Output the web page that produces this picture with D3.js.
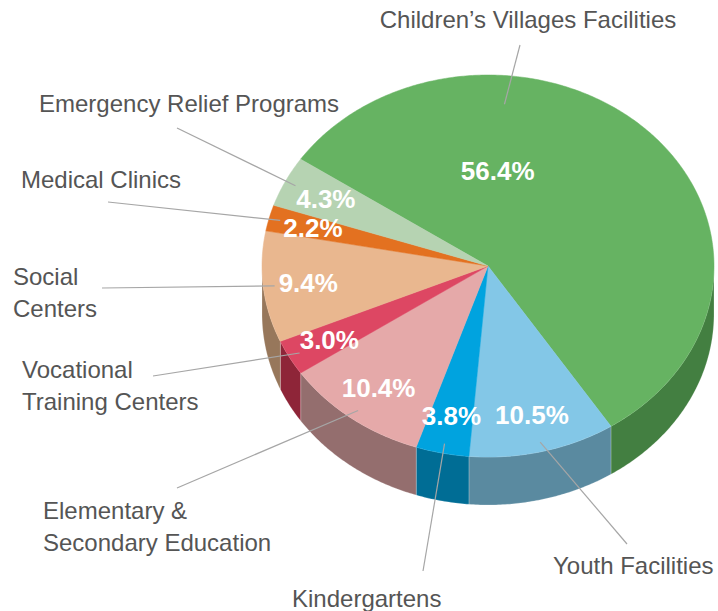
<!DOCTYPE html>
<html>
<head>
<meta charset="utf-8">
<script src="https://cdn.jsdelivr.net/npm/d3@7"></script>
<style>
  html, body { margin: 0; padding: 0; background: #fff; }
  svg { display: block; }
</style>
</head>
<body>
<svg id="chart"></svg>
<script>
// data, clockwise from the top-left edge of the big slice
var categories = [
  "Children’s Villages Facilities",
  "Youth Facilities",
  "Kindergartens",
  "Elementary &\nSecondary Education",
  "Vocational\nTraining Centers",
  "Social\nCenters",
  "Medical Clinics",
  "Emergency Relief Programs"
];
var values = [56.4, 10.5, 3.8, 10.4, 3.0, 9.4, 2.2, 4.3];

var topColors  = ["#66b362", "#83c7e7", "#00a3df", "#e5a9a9", "#dd4763", "#e9b78f", "#e37120", "#b6d3b2"];
var sideColors = ["#437f41", "#5a8aa0", "#006d95", "#946e6e", "#8e2538", "#97775b", "#a3501a", "#7f9a7c"];

// where the outer labels sit: [x, first baseline, anchor]
var labelLayout = [
  [528, 28, "middle"],
  [553, 574, "start"],
  [292, 607, "start"],
  [43, 519, "start"],
  [22, 378, "start"],
  [13, 285, "start"],
  [21, 188, "start"],
  [39, 112, "start"]
];
// outer end of each leader line
var leaderEnds = [
  [520, 45], [627, 544], [423, 571], [177, 488],
  [153, 376], [102, 288], [108, 202], [177, 128]
];

var width = 718, height = 611;
var cx = 488, cy = 266, rx = 226, ry = 191, depth = 48;
var rad = Math.PI / 180;

var svg = d3.select("#chart").attr("width", width).attr("height", height);

var data = categories.map(function(c, i) { return { name: c, value: values[i], i: i }; });

var pie = d3.pie()
  .sort(null)
  .value(function(d) { return d.value; })
  .startAngle(-56 * rad)
  .endAngle(304 * rad);
var arcs = pie(data);

function pt(t, r, dy) {
  r = r == null ? 1 : r;
  return [cx + r * rx * Math.sin(t), cy - r * ry * Math.cos(t) + (dy || 0)];
}
function samples(a0, a1) {
  var n = Math.max(2, Math.ceil((a1 - a0) / 0.01));
  return d3.range(n + 1).map(function(k) { return a0 + (a1 - a0) * k / n; });
}
var line = d3.line();

// sides first (only the front half of the rim shows)
var sides = svg.append("g").attr("class", "sides");
arcs.forEach(function(a) {
  var s0 = Math.max(a.startAngle, 90 * rad), s1 = Math.min(a.endAngle, 270 * rad);
  if (s1 <= s0) return;
  var ts = samples(s0, s1);
  var pts = ts.map(function(t) { return pt(t); })
    .concat(ts.slice().reverse().map(function(t) { return pt(t, 1, depth); }));
  sides.append("path")
    .attr("d", line(pts) + "Z")
    .attr("fill", sideColors[a.data.i])
    .attr("stroke", "rgba(255,255,255,0.35)")
    .attr("stroke-width", 0.6);
});

// top faces
var tops = svg.append("g").attr("class", "tops");
arcs.forEach(function(a) {
  var pts = [[cx, cy]].concat(samples(a.startAngle, a.endAngle).map(function(t) { return pt(t); }));
  tops.append("path")
    .attr("d", line(pts) + "Z")
    .attr("fill", topColors[a.data.i])
    .attr("stroke", topColors[a.data.i])
    .attr("stroke-width", 0.5);
});

// label angle: the big slice gets its label pulled towards the top
function isBig(a) { return a.endAngle - a.startAngle > Math.PI; }
function labelAngle(a) {
  var span = a.endAngle - a.startAngle;
  return isBig(a) ? a.startAngle + 0.3 * span : (a.startAngle + a.endAngle) / 2;
}
function pctPos(a) { return pt(labelAngle(a), isBig(a) ? 0.5 : 0.8); }

// leader lines
var leaders = svg.append("g").attr("class", "leaders");
arcs.forEach(function(a) {
  var p = pt(labelAngle(a), isBig(a) ? 0.85 : 0.95);
  leaders.append("line")
    .attr("x1", p[0]).attr("y1", p[1])
    .attr("x2", leaderEnds[a.data.i][0]).attr("y2", leaderEnds[a.data.i][1])
    .attr("stroke", "#a6a6a6")
    .attr("stroke-width", 1.2);
});

// percentage labels
svg.append("g").attr("class", "pct")
  .selectAll("text").data(arcs).enter()
  .append("text")
  .attr("x", function(a) { return pctPos(a)[0]; })
  .attr("y", function(a) { return pctPos(a)[1]; })
  .attr("dy", "0.36em")
  .attr("text-anchor", "middle")
  .attr("fill", "#fff")
  .style("font-family", "'Liberation Sans', Arial, sans-serif")
  .style("font-weight", "bold")
  .style("font-size", "26px")
  .text(function(a) { return d3.format(".1f")(a.data.value) + "%"; });

// category labels
var names = svg.append("g").attr("class", "names")
  .style("font-family", "'Liberation Sans', Arial, sans-serif")
  .style("font-size", "24px")
  .attr("fill", "#555");
data.forEach(function(d) {
  var lay = labelLayout[d.i];
  var t = names.append("text").attr("text-anchor", lay[2]);
  d.name.split("\n").forEach(function(s, k) {
    t.append("tspan").attr("x", lay[0]).attr("y", lay[1] + k * 32).text(s);
  });
});
</script>
</body>
</html>
